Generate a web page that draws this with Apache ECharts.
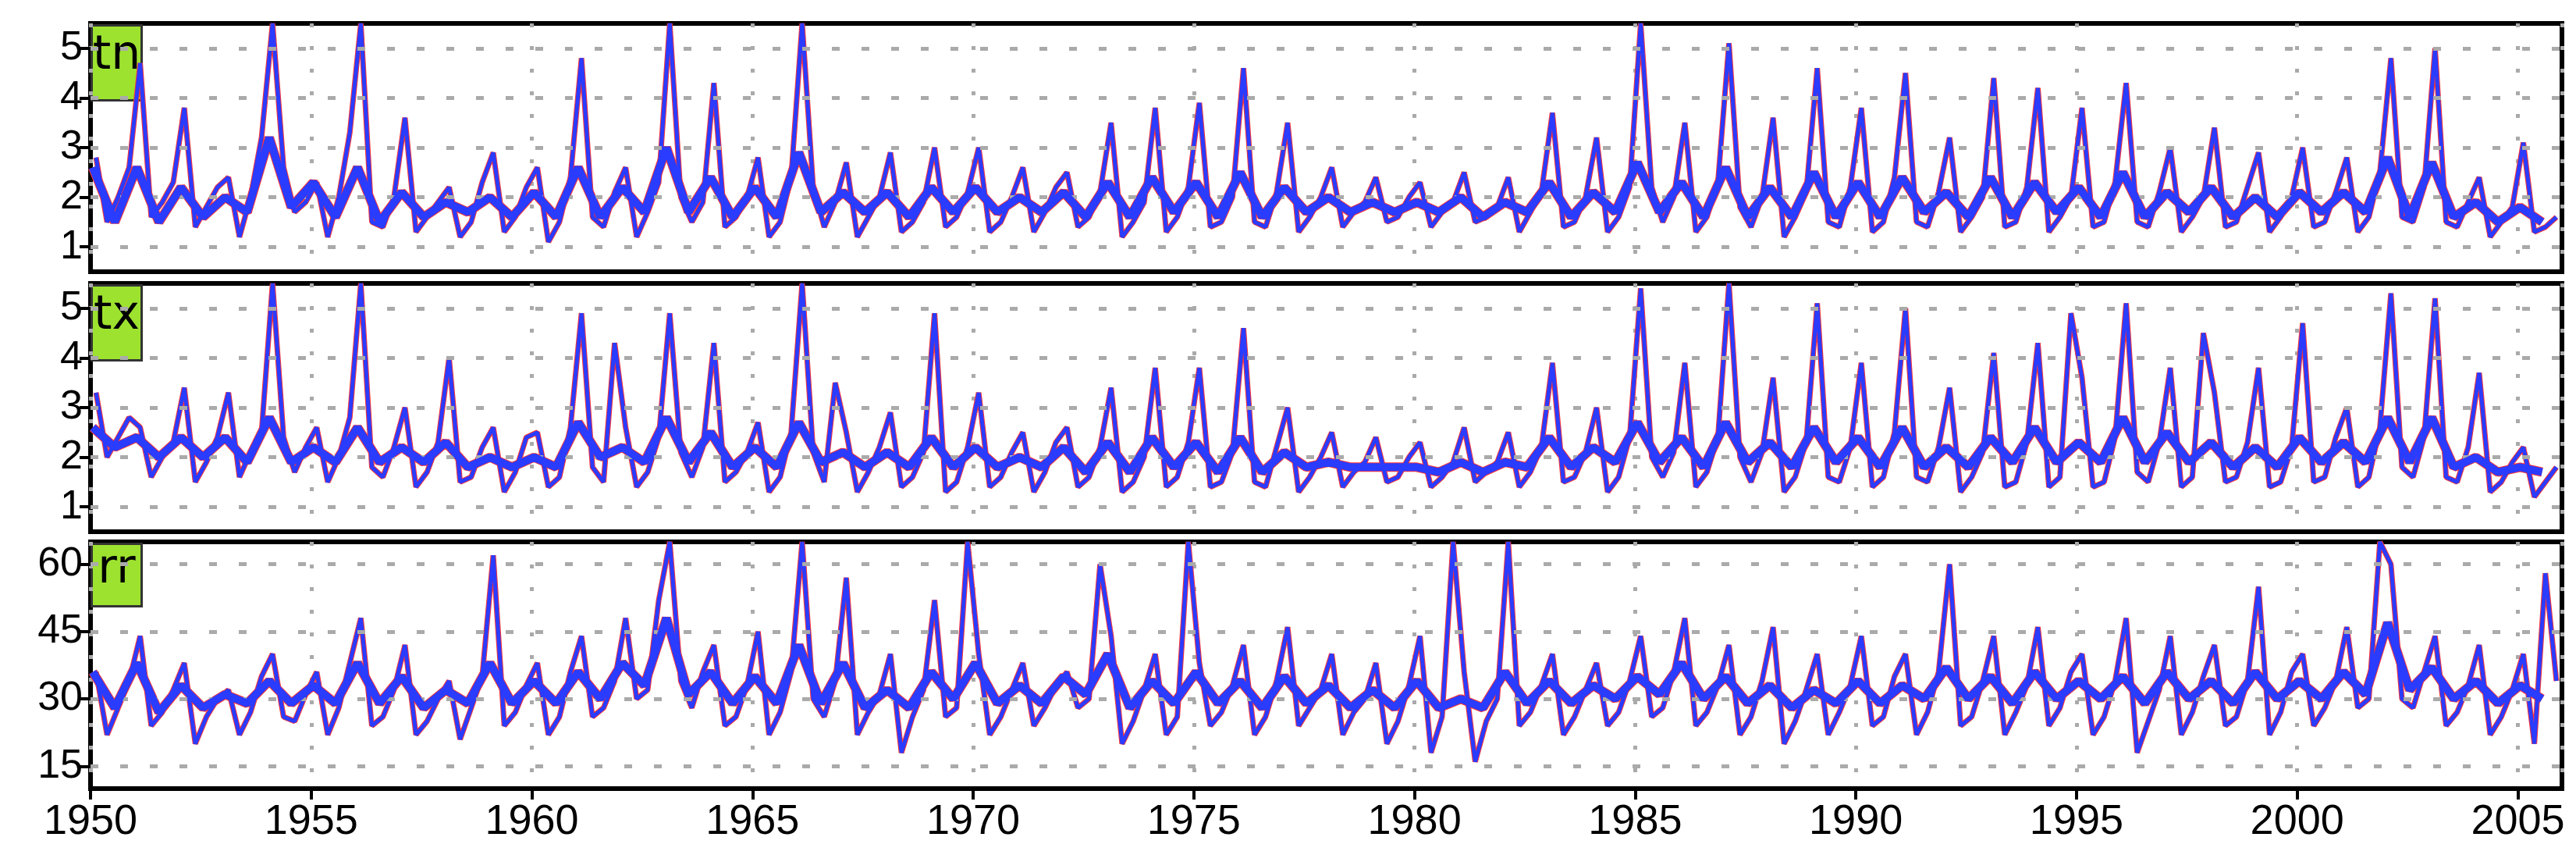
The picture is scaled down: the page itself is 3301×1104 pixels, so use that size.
<!DOCTYPE html>
<html><head><meta charset="utf-8">
<script src="https://cdn.jsdelivr.net/npm/echarts@6/dist/echarts.min.js"></script>
<style>html,body{margin:0;padding:0;background:#fff}#c{width:3301px;height:1104px}</style>
</head><body><div id="c"></div>
<script>
const startYear = 1950;
const panelNames = ['tn','tx','rr'];
const yTicks = [[1,2,3,4,5],[1,2,3,4,5],[15,30,45,60]];
const xTicks = [1950,1955,1960,1965,1970,1975,1980,1985,1990,1995,2000,2005];
// quarterly values, 1950..2005
const tnQ = [2.8,1.5,2.0,2.6, 4.7,1.6,1.9,2.3, 3.8,1.4,1.8,2.2, 2.4,1.2,2.0,3.2, 5.5,2.6,1.7,1.9, 2.3,1.2,2.0,3.3, 5.5,1.5,1.4,2.0, 3.6,1.3,1.6,1.9, 2.2,1.2,1.5,2.3, 2.9,1.3,1.6,2.2,
 2.6,1.1,1.5,2.4, 4.8,1.6,1.4,2.1, 2.6,1.2,1.7,2.3, 5.5,2.0,1.5,1.9, 4.3,1.4,1.6,2.0, 2.8,1.2,1.5,2.4, 5.5,2.2,1.4,1.9, 2.7,1.2,1.6,2.0, 2.9,1.3,1.5,1.9, 3.0,1.4,1.6,2.1,
 3.0,1.3,1.5,2.0, 2.6,1.3,1.7,2.2, 2.5,1.4,1.6,2.1, 3.5,1.2,1.5,1.9, 3.8,1.3,1.6,2.2, 3.9,1.4,1.5,2.0, 4.6,1.5,1.4,2.1, 3.5,1.3,1.6,2.0, 2.6,1.4,1.7,1.9, 2.4,1.5,1.6,2.0,
 2.3,1.4,1.7,1.9, 2.5,1.5,1.6,1.8, 2.4,1.3,1.7,2.1, 3.7,1.4,1.5,2.0, 3.2,1.3,1.6,2.2, 5.5,2.2,1.5,2.0, 3.5,1.3,1.6,2.3, 5.1,1.8,1.4,2.0, 3.6,1.2,1.6,2.1, 4.6,1.5,1.4,2.2,
 3.8,1.3,1.5,2.4, 4.5,1.5,1.4,2.1, 3.2,1.3,1.6,2.0, 4.4,1.4,1.5,2.2, 4.2,1.3,1.6,2.0, 3.8,1.4,1.5,2.3, 4.3,1.5,1.4,2.1, 3.0,1.3,1.6,2.0, 3.4,1.4,1.5,2.2, 2.9,1.3,1.6,2.0,
 3.0,1.4,1.5,2.1, 2.8,1.3,1.6,2.5, 4.8,1.6,1.5,2.2, 5.0,1.5,1.4,1.9, 2.4,1.2,1.5,1.8, 3.1,1.3,1.4,1.6];
const txQ = [3.3,2.0,2.4,2.8, 2.6,1.6,2.0,2.3, 3.4,1.5,1.9,2.4, 3.3,1.6,2.1,2.5, 5.5,2.4,1.7,2.2, 2.6,1.5,2.0,2.8, 5.5,1.8,1.6,2.2, 3.0,1.4,1.7,2.3, 4.0,1.5,1.6,2.2, 2.6,1.3,1.7,2.4,
 2.5,1.4,1.6,2.6, 4.9,1.8,1.5,4.3, 2.6,1.4,1.7,2.4, 4.9,2.1,1.6,2.2, 4.3,1.5,1.7,2.1, 2.7,1.3,1.6,2.5, 5.5,2.1,1.5,3.5, 2.5,1.3,1.7,2.2, 2.9,1.4,1.6,2.1, 4.9,1.3,1.5,2.2,
 3.3,1.4,1.6,2.1, 2.5,1.3,1.7,2.3, 2.6,1.4,1.6,2.2, 3.4,1.3,1.5,2.0, 3.8,1.4,1.6,2.3, 3.8,1.4,1.5,2.1, 4.6,1.5,1.4,2.2, 3.0,1.3,1.6,2.0, 2.5,1.4,1.7,1.9, 2.4,1.5,1.6,2.0,
 2.3,1.4,1.6,1.9, 2.6,1.5,1.7,1.9, 2.5,1.4,1.7,2.2, 3.9,1.5,1.6,2.1, 3.0,1.3,1.6,2.4, 5.4,2.0,1.6,2.1, 3.9,1.4,1.7,2.4, 5.5,2.0,1.5,2.1, 3.6,1.3,1.6,2.3, 5.1,1.6,1.5,2.2,
 3.9,1.4,1.6,2.5, 5.0,1.6,1.5,2.2, 3.4,1.3,1.6,2.1, 4.1,1.4,1.5,2.3, 4.3,1.4,1.6,4.9, 3.6,1.4,1.5,2.4, 5.1,1.7,1.5,2.3, 3.8,1.4,1.6,4.5, 3.3,1.5,1.6,2.3, 3.8,1.4,1.5,2.2,
 4.7,1.5,1.6,2.4, 3.0,1.4,1.6,2.6, 5.3,1.8,1.6,2.4, 5.2,1.6,1.5,2.2, 3.7,1.3,1.5,1.9, 2.2,1.2,1.5,1.8];
const rrQ = [36,22,28,34, 44,24,27,32, 38,20,26,30, 32,22,27,35, 40,26,25,31, 36,22,28,38, 48,24,26,32, 42,22,25,30, 34,21,28,35, 62,24,27,33,
 38,22,26,36, 44,26,28,34, 48,30,32,52, 65,34,28,36, 42,24,26,33, 45,22,27,36, 65,30,26,34, 57,22,27,31, 40,18,26,32, 52,26,28,65,
 40,22,26,32, 38,24,28,33, 36,28,30,60, 44,20,25,32, 40,22,26,65, 38,24,27,33, 42,22,26,34, 46,24,28,32, 40,22,27,30, 38,20,25,33,
 44,18,26,65, 36,16,25,30, 65,24,27,33, 40,22,26,32, 38,24,27,34, 44,26,28,36, 48,24,27,33, 42,22,26,34, 46,20,25,32, 40,22,27,33,
 44,24,26,35, 40,22,27,36, 60,24,26,34, 44,22,27,33, 46,24,28,36, 40,22,26,34, 48,18,25,32, 44,22,27,35, 42,24,26,34, 55,22,27,36,
 40,24,28,34, 46,28,30,65, 60,30,28,36, 44,24,27,33, 42,22,26,32, 40,20,58,34];
// smoothed values: winter, summer per year
const tnS = [2.6,1.5, 2.6,1.5, 2.2,1.6, 2.0,1.7, 3.2,1.8, 2.3,1.6, 2.6,1.5, 2.1,1.6, 1.9,1.7, 2.0,1.6, 2.1,1.6, 2.6,1.6, 2.2,1.7, 3.0,1.7, 2.4,1.6, 2.2,1.6, 2.9,1.7, 2.1,1.7, 2.1,1.6, 2.2,1.7,
 2.2,1.7, 2.0,1.7, 2.1,1.6, 2.3,1.6, 2.4,1.7, 2.3,1.6, 2.5,1.6, 2.2,1.7, 2.0,1.7, 1.9,1.7, 1.9,1.7, 2.0,1.6, 1.9,1.7, 2.3,1.6, 2.1,1.7, 2.7,1.7, 2.3,1.6, 2.6,1.6, 2.2,1.6, 2.5,1.6,
 2.3,1.6, 2.4,1.7, 2.1,1.6, 2.4,1.6, 2.3,1.7, 2.2,1.6, 2.5,1.6, 2.1,1.7, 2.2,1.6, 2.0,1.6, 2.1,1.7, 2.1,1.7, 2.8,1.6, 2.7,1.6, 1.9,1.5, 1.8,1.5];
const txS = [2.6,2.2, 2.4,2.0, 2.4,2.0, 2.4,1.9, 2.8,1.9, 2.2,1.9, 2.6,1.9, 2.2,1.9, 2.3,1.8, 2.0,1.8, 2.0,1.8, 2.7,2.0, 2.2,1.9, 2.8,1.9, 2.5,1.8, 2.2,1.8, 2.7,1.9, 2.1,1.8, 2.1,1.8, 2.4,1.8,
 2.2,1.8, 2.0,1.8, 2.2,1.7, 2.3,1.7, 2.4,1.8, 2.3,1.7, 2.4,1.7, 2.1,1.8, 1.9,1.8, 1.8,1.8, 1.8,1.7, 1.9,1.7, 1.9,1.8, 2.4,1.8, 2.2,1.9, 2.7,1.9, 2.4,1.8, 2.7,1.9, 2.3,1.8, 2.6,1.9,
 2.4,1.8, 2.6,1.8, 2.2,1.8, 2.4,1.9, 2.6,1.9, 2.3,1.9, 2.8,1.9, 2.5,1.9, 2.3,1.8, 2.2,1.8, 2.4,1.9, 2.3,1.9, 2.8,1.9, 2.8,1.8, 2.0,1.7, 1.8,1.7];
const rrS = [36,28, 38,27, 33,28, 31,29, 34,29, 33,29, 38,29, 35,28, 32,29, 38,29, 34,29, 36,30, 38,33, 48,31, 36,29, 35,29, 42,29, 38,28, 32,28, 36,30,
 38,29, 33,29, 35,31, 40,28, 34,29, 36,29, 34,28, 35,29, 33,28, 32,28, 34,28, 30,28, 36,29, 34,29, 33,30, 35,31, 38,30, 35,29, 33,28, 32,29,
 34,29, 33,30, 37,30, 35,29, 36,30, 34,30, 35,29, 36,30, 34,29, 36,30, 34,30, 36,31, 47,32, 37,30, 34,29, 33,30];

const quarterly = [tnQ, txQ, rrQ];
const smooth = [tnS, txS, rrS];
const yRange = [[0.5,5.5],[0.5,5.5],[10,65]];
const tops = [30, 363, 694], heights = [318, 318, 316];
const BLUE = '#2a3cff', RED = '#ff3333';

function qPts(arr){ return arr.map((v,i)=>[startYear + i/4 + 0.125, v]); }
function sPts(arr){ return arr.map((v,i)=>[startYear + Math.floor(i/2) + (i%2 ? 0.55 : 0.05), v]); }

const grid=[], xAxis=[], yAxis=[], series=[], graphic=[];
for (let p=0;p<3;p++){
  grid.push({left:116, right:18, top:tops[p], height:heights[p], show:true, borderColor:'#000', borderWidth:6, backgroundColor:'#fff'});
  xAxis.push({type:'value', gridIndex:p, min:1950, max:2006, interval:5,
    axisLine:{show:false},
    axisTick:{show:p===2, length:14, inside:false, lineStyle:{color:'#000', width:4}},
    axisLabel:{show:p===2, fontSize:54, color:'#000', fontFamily:'Liberation Sans', margin:16, formatter:v=>String(v)},
    splitLine:{show:true, lineStyle:{color:'#aaa', type:[5,24], width:5}}});
  yAxis.push({type:'value', gridIndex:p, min:yRange[p][0], max:yRange[p][1],
    axisLine:{show:false},
    axisTick:{show:true, length:14, customValues:yTicks[p], lineStyle:{color:'#000', width:4}},
    axisLabel:{show:true, fontSize:52, color:'#000', fontFamily:'Liberation Sans', margin:10, customValues:yTicks[p]},
    splitLine:{show:false}});
  const gl = yTicks[p].map(v=>({yAxis:v}));
  series.push({type:'line', xAxisIndex:p, yAxisIndex:p, data:qPts(quarterly[p]), showSymbol:false, silent:true,
    lineStyle:{color:RED, width:7}, z:2,
    markLine:{silent:true, symbol:'none', label:{show:false}, data:gl, lineStyle:{color:'#aaa', type:[10,28], width:5}}});
  series.push({type:'line', xAxisIndex:p, yAxisIndex:p, data:sPts(smooth[p]), showSymbol:false, silent:true,
    lineStyle:{color:RED, width:12}, z:3});
  series.push({type:'line', xAxisIndex:p, yAxisIndex:p, data:qPts(quarterly[p]), showSymbol:false, silent:true,
    lineStyle:{color:BLUE, width:5}, z:4});
  series.push({type:'line', xAxisIndex:p, yAxisIndex:p, data:sPts(smooth[p]), showSymbol:false, silent:true,
    lineStyle:{color:BLUE, width:10}, z:5});
  const bh = p===2 ? 80 : 96;
  graphic.push({type:'group', left:116, top:tops[p]+1, z:100, children:[
    {type:'rect', shape:{x:0,y:0,width:64,height:bh}, style:{fill:'#9de22f', stroke:'#333', lineWidth:3}},
    {type:'text', x:32, y:p===2?4:10, style:{text:panelNames[p], fontSize:60, fontFamily:'DejaVu Sans', fill:'#000', align:'center', verticalAlign:'top'}}
  ]});
}
const chart = echarts.init(document.getElementById('c'));
chart.setOption({animation:false, backgroundColor:'#fff', grid, xAxis, yAxis, series, graphic});
</script></body></html>
